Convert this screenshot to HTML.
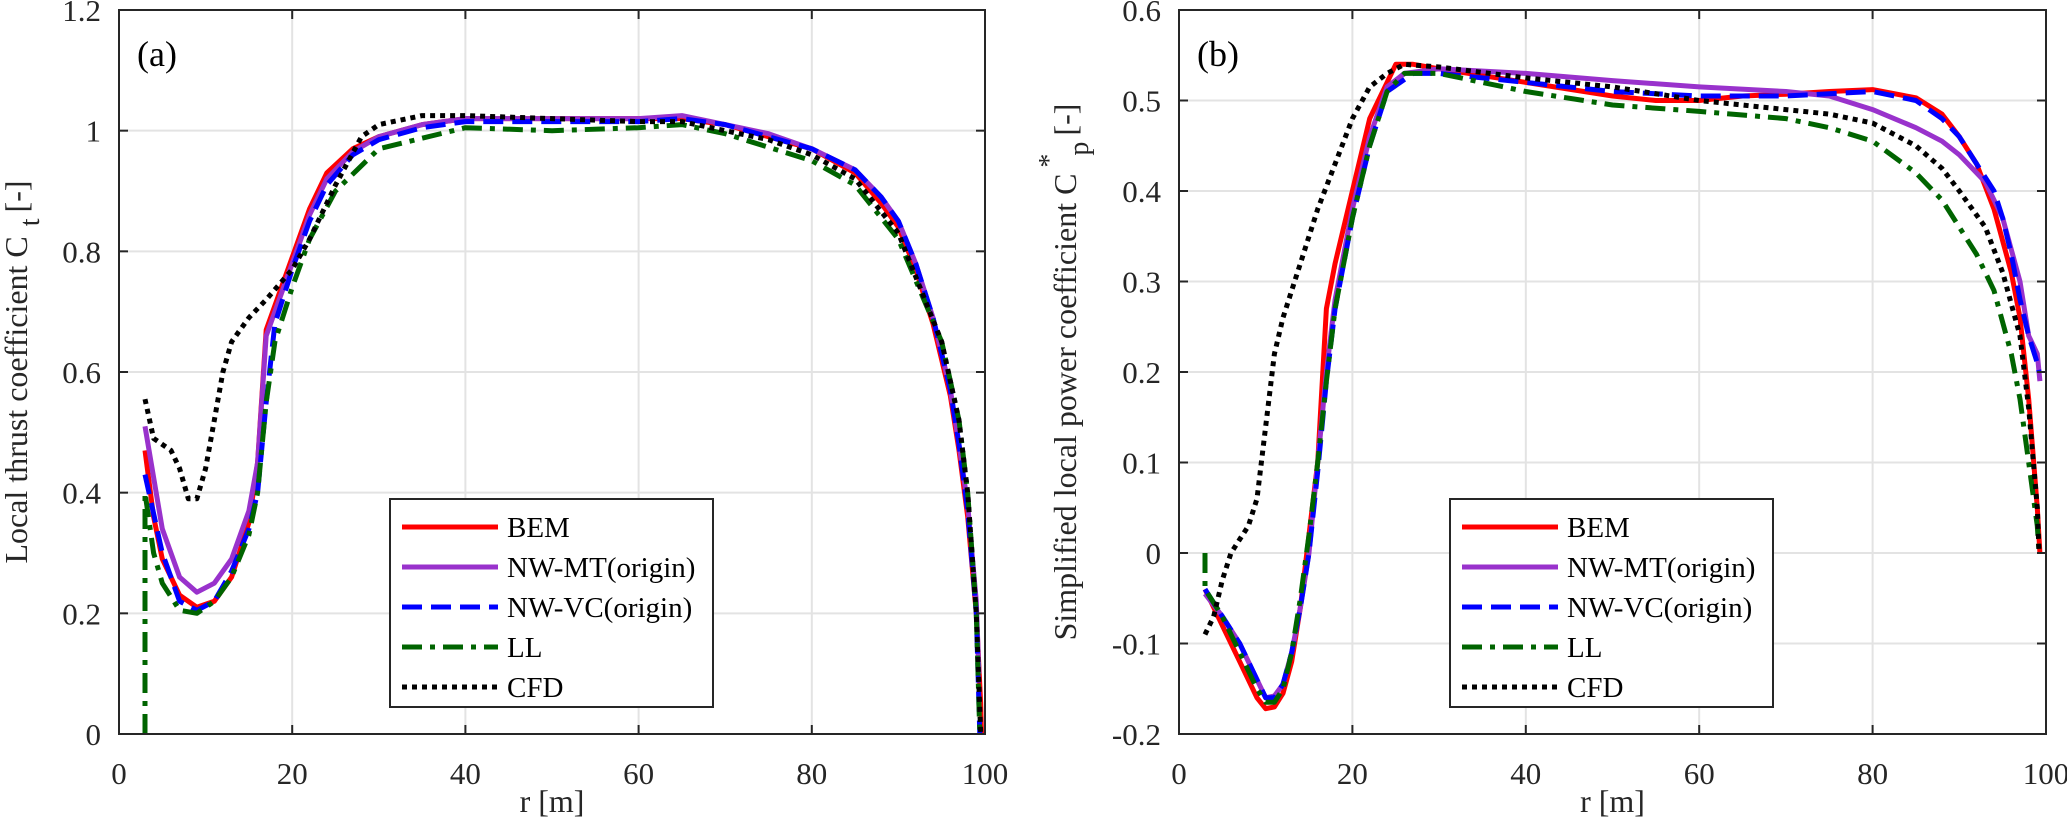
<!DOCTYPE html>
<html><head><meta charset="utf-8"><style>
html,body{margin:0;padding:0;background:#fff;}
svg{display:block;}
text{font-family:"Liberation Serif","Times New Roman",serif;}
</style></head><body>
<svg id="fig" width="2067" height="838" viewBox="0 0 2067 838" xmlns="http://www.w3.org/2000/svg" font-family="Liberation Serif, serif"></svg>
<script>
// Panel (a) data: local thrust coefficient Ct vs r
const rA_BEM=[3,4,5,7,9,11,13,15,16,17,18,20,22,24,27,30,35,40,50,60,65,70,75,80,85,88,90,92,94,96,97,98,99,99.5,99.6];
const ctA_BEM=[0.47,0.36,0.29,0.23,0.21,0.22,0.26,0.35,0.45,0.67,0.71,0.79,0.87,0.93,0.97,0.99,1.01,1.02,1.02,1.02,1.02,1.01,0.99,0.97,0.93,0.88,0.84,0.77,0.68,0.56,0.47,0.36,0.2,0.05,0];
const rA_MT=[3,5,7,9,11,13,15,16,17,18,20,22,24,27,30,35,40,50,60,65,70,75,80,85,88,90,92,94,96,97,98,99,99.3];
const ctA_MT=[0.51,0.34,0.26,0.235,0.25,0.29,0.37,0.45,0.66,0.70,0.78,0.86,0.92,0.965,0.99,1.01,1.02,1.02,1.02,1.025,1.01,0.995,0.97,0.935,0.89,0.85,0.78,0.69,0.57,0.48,0.38,0.22,0.1];
const rA_VC=[3,5,7,9,11,13,15,16,17,18,20,22,24,27,30,35,40,50,60,65,70,75,80,85,88,90,92,94,96,97,98,99,99.4];
const ctA_VC=[0.43,0.3,0.22,0.205,0.22,0.27,0.34,0.40,0.55,0.68,0.77,0.85,0.91,0.96,0.985,1.005,1.015,1.015,1.015,1.02,1.01,0.99,0.97,0.935,0.89,0.85,0.78,0.69,0.57,0.48,0.37,0.2,0];
const rA_LL=[3,3,4,5,7,9,11,13,15,16,17,18,20,22,25,30,40,50,60,65,70,80,85,90,95,97,98,99,99.4];
const ctA_LL=[0,0.4,0.3,0.25,0.205,0.2,0.22,0.26,0.33,0.40,0.55,0.65,0.74,0.82,0.9,0.97,1.005,1.0,1.005,1.01,0.995,0.95,0.91,0.82,0.65,0.52,0.40,0.2,0];
const rA_CFD=[3,4,5,6,7,8,9,10,11,12,13,15,17,20,22,25,28,30,35,40,50,60,65,70,75,80,85,90,95,97,98,99,99.5];
const ctA_CFD=[0.555,0.49,0.48,0.47,0.44,0.39,0.39,0.44,0.52,0.60,0.65,0.69,0.72,0.77,0.82,0.91,0.99,1.01,1.025,1.025,1.02,1.015,1.015,1.0,0.985,0.96,0.92,0.83,0.65,0.52,0.4,0.2,0];
// Panel (b) data: simplified local power coefficient Cp* vs r
const rB_BEM=[3,5,7,9,10,11,12,13,14,15,16,17,18,20,22,24,25,27,30,40,50,55,60,65,70,75,80,85,88,90,92,94,96,97,98,99,99.3];
const cpB_BEM=[-0.04,-0.08,-0.12,-0.16,-0.172,-0.17,-0.155,-0.12,-0.06,0.02,0.10,0.27,0.32,0.40,0.48,0.52,0.54,0.54,0.535,0.52,0.505,0.5,0.5,0.505,0.507,0.51,0.512,0.503,0.485,0.46,0.43,0.38,0.31,0.26,0.17,0.05,0];
const rB_MT=[3,5,7,9,10,11,12,13,14,15,16,17,18,20,22,24,26,30,40,50,60,70,75,80,85,88,90,93,95,97,98,99,99.3];
const cpB_MT=[-0.045,-0.07,-0.1,-0.14,-0.16,-0.158,-0.145,-0.11,-0.06,0.0,0.1,0.2,0.28,0.38,0.46,0.515,0.53,0.535,0.53,0.522,0.515,0.51,0.505,0.49,0.47,0.455,0.44,0.41,0.37,0.30,0.24,0.22,0.19];
const rB_VC=[3,5,7,9,10,11,12,13,14,15,16,17,18,20,22,24,27,30,40,50,60,70,80,85,88,90,92,94,95,96,97,98,99,99.2];
const cpB_VC=[-0.04,-0.07,-0.1,-0.14,-0.16,-0.16,-0.145,-0.11,-0.06,0.0,0.09,0.19,0.27,0.37,0.45,0.51,0.53,0.53,0.52,0.51,0.505,0.505,0.51,0.5,0.48,0.46,0.43,0.4,0.37,0.33,0.28,0.24,0.21,0.2];
const rB_LL=[3,3,5,7,9,10,11,12,13,14,15,16,17,18,20,22,24,26,30,40,50,60,70,75,80,85,88,90,92,94,96,97,98,99,99.2];
const cpB_LL=[0,-0.04,-0.07,-0.11,-0.15,-0.165,-0.165,-0.15,-0.11,-0.05,0.02,0.1,0.19,0.27,0.37,0.45,0.51,0.53,0.53,0.51,0.495,0.488,0.48,0.47,0.455,0.42,0.39,0.36,0.33,0.29,0.22,0.17,0.1,0.03,0];
const rB_CFD=[3,4,5,6,7,8,9,10,11,12,14,16,18,20,22,24,26,30,40,50,60,70,75,80,85,88,90,93,95,97,98,99,99.2];
const cpB_CFD=[-0.09,-0.07,-0.03,0.0,0.015,0.03,0.06,0.14,0.22,0.26,0.32,0.38,0.43,0.48,0.515,0.53,0.54,0.537,0.525,0.515,0.5,0.49,0.485,0.475,0.45,0.425,0.4,0.36,0.31,0.24,0.16,0.05,0];
const xTicks=[0,20,40,60,80,100];
const yTicksA=[0,0.2,0.4,0.6,0.8,1,1.2];
const yTicksB=[-0.2,-0.1,0,0.1,0.2,0.3,0.4,0.5,0.6];
const legendLabels=["BEM","NW-MT(origin)","NW-VC(origin)","LL","CFD"];

const NS="http://www.w3.org/2000/svg";
const svg=document.getElementById('fig');
const FF="Liberation Serif, Times New Roman, serif";
function mk(tag,attrs,parent){const e=document.createElementNS(NS,tag);for(const k in attrs)e.setAttribute(k,attrs[k]);if(tag==='text')e.setAttribute('font-family',FF);(parent||svg).appendChild(e);return e;}
const styles=[
 {stroke:"#ff0000",dash:null},
 {stroke:"#9932cc",dash:null},
 {stroke:"#0000ff",dash:"20 9"},
 {stroke:"#006400",dash:"20 8 5 8"},
 {stroke:"#000000",dash:"5 5"}];
const seriesNames=["bem","nw-mt","nw-vc","ll","cfd"];
function fmt(v){return Math.abs(v)<1e-9?"0":String(Math.round(v*100)/100);}

function panel(p){
 const g=mk('g',{});
 
 
 const X=v=>p.x0+(v-0)/(100-0)*(p.x1-p.x0);
 const Y=v=>p.y1-(v-p.ymin)/(p.ymax-p.ymin)*(p.y1-p.y0);
 xTicks.forEach(t=>{const l=mk('line',{x1:X(t),x2:X(t),y1:p.y0,y2:p.y1,stroke:"#e3e3e3","stroke-width":2},g);
  });
 p.yt.forEach(t=>{const l=mk('line',{x1:p.x0,x2:p.x1,y1:Y(t),y2:Y(t),stroke:"#e3e3e3","stroke-width":2},g);
  });
 const clip=mk('clipPath',{id:'clip'+p.id},g);mk('rect',{x:p.x0,y:p.y0-2,width:p.x1-p.x0,height:p.y1-p.y0+2},clip);
 p.series.forEach((s,i)=>{
  const d=s[0].map((r,j)=>(j?'L':'M')+X(r).toFixed(1)+' '+Y(s[1][j]).toFixed(1)).join(' ');
  const a={d:d,fill:"none",stroke:styles[i].stroke,"stroke-width":5,"stroke-linejoin":"round","clip-path":"url(#clip"+p.id+")"};
  if(styles[i].dash)a["stroke-dasharray"]=styles[i].dash;
  const path=mk('path',a,g);
  
  
 });
 const box=mk('rect',{x:p.x0,y:p.y0,width:p.x1-p.x0,height:p.y1-p.y0,fill:"none",stroke:"#262626","stroke-width":2},g);
 
 xTicks.forEach(t=>{
  mk('line',{x1:X(t),x2:X(t),y1:p.y1,y2:p.y1-9,stroke:"#262626","stroke-width":2},g);
  mk('line',{x1:X(t),x2:X(t),y1:p.y0,y2:p.y0+9,stroke:"#262626","stroke-width":2},g);
  const tx=mk('text',{x:X(t),y:p.y1+50,"text-anchor":"middle","font-size":31,fill:"#262626"},g);tx.textContent=t;
  
 });
 p.yt.forEach(t=>{
  mk('line',{x1:p.x0,x2:p.x0+9,y1:Y(t),y2:Y(t),stroke:"#262626","stroke-width":2},g);
  mk('line',{x1:p.x1,x2:p.x1-9,y1:Y(t),y2:Y(t),stroke:"#262626","stroke-width":2},g);
  const tx=mk('text',{x:p.x0-18,y:Y(t)+11,"text-anchor":"end","font-size":31,fill:"#262626"},g);tx.textContent=fmt(t);
  
 });
 const xl=mk('text',{x:(p.x0+p.x1)/2,y:812,"text-anchor":"middle","font-size":32,fill:"#262626"},g);xl.textContent="r [m]";
 
 const pl=mk('text',{x:p.x0+18,y:66,"font-size":36,fill:"#000"},g);pl.textContent=p.label;
 
 const lg=mk('g',{},g);
 mk('rect',{x:p.lx,y:499,width:323,height:208,fill:"#fff",stroke:"#262626","stroke-width":2},lg);
 legendLabels.forEach((lab,i)=>{
  const e=mk('g',{},lg);
  const yy=527+i*40;
  const a={x1:p.lx+12,x2:p.lx+108,y1:yy,y2:yy,stroke:styles[i].stroke,"stroke-width":5};
  if(styles[i].dash)a["stroke-dasharray"]=styles[i].dash;
  mk('line',a,e);
  const t=mk('text',{x:p.lx+117,y:yy+10,"font-size":29,fill:"#000"},e);t.textContent=lab;
 });
}
panel({id:'a',name:'panel-a-thrust',label:'(a)',x0:119,x1:985,y0:10,y1:734,ymin:0,ymax:1.2,yt:yTicksA,lx:390,
 series:[[rA_BEM,ctA_BEM],[rA_MT,ctA_MT],[rA_VC,ctA_VC],[rA_LL,ctA_LL],[rA_CFD,ctA_CFD]]});
panel({id:'b',name:'panel-b-power',label:'(b)',x0:1179,x1:2046,y0:10,y1:734,ymin:-0.2,ymax:0.6,yt:yTicksB,lx:1450,
 series:[[rB_BEM,cpB_BEM],[rB_MT,cpB_MT],[rB_VC,cpB_VC],[rB_LL,cpB_LL],[rB_CFD,cpB_CFD]]});
</script>
<svg style="position:absolute;left:0;top:0" width="2067" height="838" xmlns="http://www.w3.org/2000/svg">
<text transform="translate(27,372) rotate(-90)" text-anchor="middle" font-family="Liberation Serif, Times New Roman, serif" font-size="32" fill="#262626">Local thrust coefficient C<tspan dx="10" dy="12" font-size="28">t</tspan><tspan dx="6" dy="-12">[-]</tspan></text>
<text transform="translate(1076,372) rotate(-90)" text-anchor="middle" font-family="Liberation Serif, Times New Roman, serif" font-size="32" fill="#262626">Simplified local power coefficient C<tspan dx="6" dy="-18" font-size="28">*</tspan><tspan dx="-2" dy="30" font-size="28">p</tspan><tspan dx="6" dy="-12">[-]</tspan></text>
</svg>
</body></html>
